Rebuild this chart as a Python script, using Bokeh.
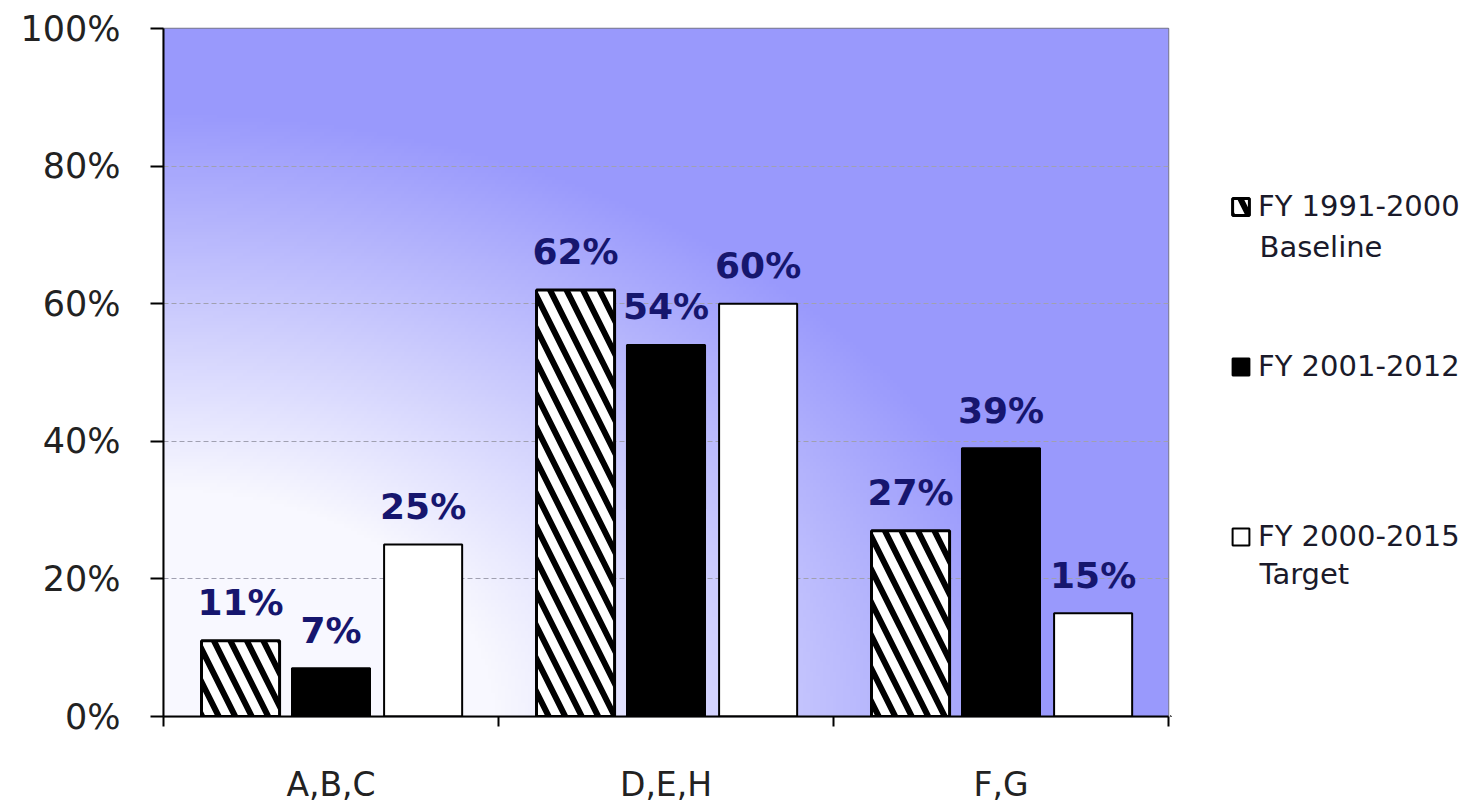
import numpy as np
from bokeh.plotting import figure
from bokeh.layouts import row
from bokeh.models import (Range1d, FixedTicker, NumeralTickFormatter, Legend, LegendItem,
                          Label, ColumnDataSource)
from bokeh.core.properties import value
from bokeh.embed import file_html
from bokeh.resources import INLINE

# ---- data ----
categories = ["A,B,C", "D,E,H", "F,G"]
series_names = ["FY 1991-2000", "FY 2001-2012", "FY 2000-2015"]
series_sub = ["Baseline", "", "Target"]
baseline = [0.11, 0.62, 0.27]
fy2001_2012 = [0.07, 0.54, 0.39]
target = [0.25, 0.60, 0.15]
y_ticks = [0.0, 0.2, 0.4, 0.6, 0.8, 1.0]

H = 809
W_MAIN, W_LEG = 1170, 305
L, R, T, B = 163, 2, 28, 93

p = figure(width=W_MAIN, height=H, output_backend="svg", toolbar_location=None,
           x_range=Range1d(0, len(categories)), y_range=Range1d(0, 1),
           min_border_left=L, min_border_right=R, min_border_top=T, min_border_bottom=B,
           background_fill_color="white", border_fill_color="white")

# background gradient (radial from bottom-left of the plot area)
ny, nx = 200, 300
u = (np.arange(nx) + 0.5) / nx
v = (np.arange(ny) + 0.5) / ny
U, V = np.meshgrid(u, v)
rr = np.sqrt(U ** 2 + V ** 2)
t = np.clip((rr - 0.33) / 0.55, 0, 1)
c0 = np.array([248, 248, 255])
c1 = np.array([153, 153, 252])
img = np.empty((ny, nx), dtype=np.uint32)
view = img.view(dtype=np.uint8).reshape((ny, nx, 4))
for k in range(3):
    view[:, :, k] = (c0[k] + (c1[k] - c0[k]) * t).astype(np.uint8)
view[:, :, 3] = 255
p.image_rgba(image=[img], x=0, y=0, dw=len(categories), dh=1, level="image")

# grid / outline
p.xgrid.grid_line_color = None
p.ygrid.ticker = FixedTicker(ticks=y_ticks[1:-1])
p.ygrid.grid_line_color = "#a0a0b0"
p.ygrid.grid_line_dash = "5 3"
p.ygrid.grid_line_width = 1
p.outline_line_color = "#7a7a8a"
p.outline_line_width = 1.5

# bars
offsets = [-0.27, 0.0, 0.275]
bw = 0.233
centers = [i + 0.5 for i in range(len(categories))]
all_vals = [baseline, fy2001_2012, target]
styles = [
    dict(fill_color="white", line_color="black", line_width=3,
         hatch_pattern="\\", hatch_color="black", hatch_scale=33, hatch_weight=6),
    dict(fill_color="black", line_color="black", line_width=2),
    dict(fill_color="white", line_color="black", line_width=2),
]
for si, vals in enumerate(all_vals):
    xs = [c + offsets[si] for c in centers]
    src = ColumnDataSource(dict(x=xs, top=vals,
                                lbl=["%d%%" % round(vv * 100) for vv in vals]))
    p.vbar(x="x", top="top", width=bw, bottom=0, source=src, **styles[si])
    p.text(x="x", y="top", text="lbl", source=src, text_align="center",
           text_baseline="alphabetic", y_offset=-38, text_font=value("DejaVu Sans"),
           text_font_style="bold", text_font_size="36px", text_color="#16166e")

# axes
xa = p.xaxis[0]
xa.ticker = FixedTicker(ticks=centers, minor_ticks=list(range(len(categories) + 1)))
xa.major_label_overrides = {c: n for c, n in zip(centers, categories)}
xa.major_tick_line_color = None
xa.minor_tick_line_color = "black"
xa.minor_tick_line_width = 2
xa.minor_tick_out = 10
xa.minor_tick_in = 0
xa.axis_line_color = "black"
xa.axis_line_width = 2
xa.major_label_standoff = 38
xa.major_label_text_font = "DejaVu Sans"
xa.major_label_text_font_size = "33px"
xa.major_label_text_color = "#222222"

ya = p.yaxis[0]
ya.ticker = FixedTicker(ticks=y_ticks, minor_ticks=[])
ya.formatter = NumeralTickFormatter(format="0%")
ya.major_tick_out = 13
ya.major_tick_in = 0
ya.major_tick_line_color = "black"
ya.major_tick_line_width = 2
ya.axis_line_color = "black"
ya.axis_line_width = 2
ya.major_label_standoff = 30
ya.major_label_text_font = "DejaVu Sans"
ya.major_label_text_font_size = "35px"
ya.major_label_text_color = "#222222"

# ---- legend panel ----
lf = figure(width=W_LEG, height=H, output_backend="svg", toolbar_location=None,
            x_range=Range1d(0, 1), y_range=Range1d(0, 1),
            x_axis_location=None, y_axis_location=None,
            min_border_left=0, min_border_right=0, min_border_top=0, min_border_bottom=0,
            background_fill_color="white", border_fill_color="white", outline_line_color=None)
lf.xgrid.grid_line_color = None
lf.ygrid.grid_line_color = None

leg_y = [493, 333, 163]
sub_y = [470, None, 143]
for i in range(3):
    # proxy glyph placed far outside the visible range, only used for the legend swatch
    rr_ = lf.vbar(x=[-100], top=[-100], width=0.1, bottom=-101, **styles[i])
    lg = Legend(items=[LegendItem(label=series_names[i], renderers=[rr_])],
                location=(60, leg_y[i]), orientation="vertical",
                background_fill_alpha=0, border_line_color=None, padding=0, margin=0,
                glyph_width=21, glyph_height=21, label_standoff=7, spacing=0,
                label_text_font="DejaVu Sans", label_text_font_size="29px",
                label_text_color="#1a1a2a", label_height=21)
    lf.add_layout(lg)
    if series_sub[i]:
        lf.add_layout(Label(x=89, y=sub_y[i], x_units="screen", y_units="screen",
                            text=series_sub[i], text_baseline="middle",
                            text_font="DejaVu Sans", text_font_size="29px",
                            text_color="#1a1a2a"))

layout = row(p, lf, spacing=0)
open("out.html", "w").write(file_html(layout, INLINE))
